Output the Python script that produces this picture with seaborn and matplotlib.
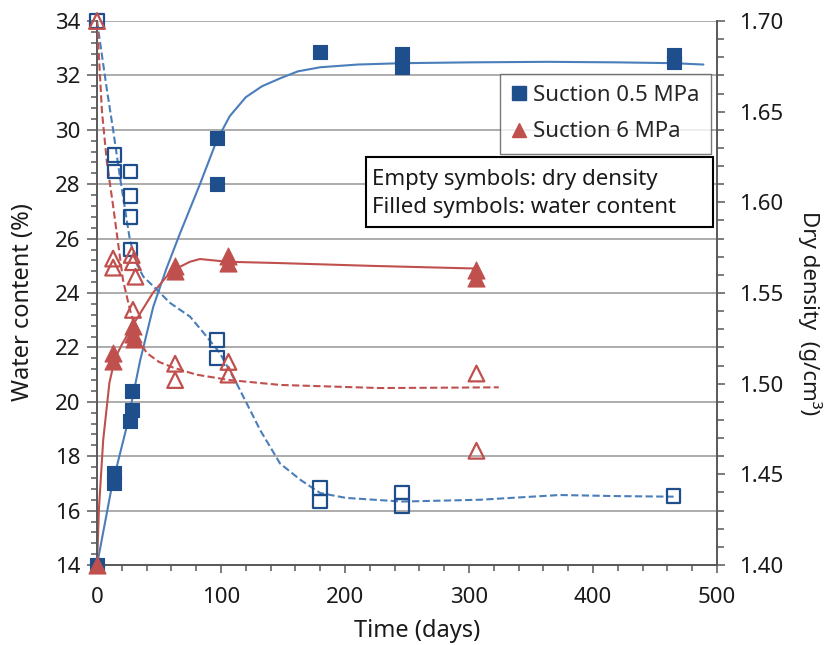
import matplotlib
matplotlib.use("Agg")
import matplotlib.pyplot as plt
from matplotlib.lines import Line2D
from matplotlib.patches import Rectangle
from matplotlib.ticker import MultipleLocator, FormatStrFormatter
import seaborn as sns

# ---- measured points: water content (%) ----
days_w_05 = [0, 14, 14, 28, 28, 27, 97, 97, 180, 246, 246, 465, 465]
water_05 = [14.0, 17.4, 17.0, 20.4, 19.7, 19.3, 29.7, 28.0, 32.85, 32.8, 32.3, 32.75, 32.5]

days_w_6 = [0, 13, 13, 29, 29, 30, 63, 63, 106, 106, 306, 306]
water_6 = [14.0, 21.8, 21.5, 22.8, 22.5, 22.3, 25.0, 24.8, 25.35, 25.1, 24.85, 24.55]

# ---- measured points: dry density (g/cm3) ----
days_d_05 = [0, 14, 14, 27, 27, 27, 27, 97, 97, 180, 180, 246, 246, 465]
density_05 = [1.70, 1.626, 1.617, 1.617, 1.6035, 1.592, 1.574, 1.524, 1.514,
              1.4425, 1.435, 1.440, 1.4326, 1.438]

days_d_6 = [0, 13, 13, 28, 29, 31, 29, 63, 63, 106, 106, 306, 306]
density_6 = [1.70, 1.569, 1.564, 1.571, 1.567, 1.559, 1.5407, 1.511, 1.502,
             1.512, 1.505, 1.5056, 1.463]

# ---- trend curves ----
trend_w_05_days = [0, 12, 23.5, 34.7, 45.4, 56, 67, 83, 96.5, 107, 120, 133, 148,
                   162, 180, 210, 246, 300, 363, 420, 465, 489]
trend_w_05 = [14.0, 16.9, 19.0, 21.5, 23.5, 24.9, 26.2, 28.0, 29.6, 30.5, 31.2, 31.6,
              31.9, 32.15, 32.3, 32.4, 32.45, 32.48, 32.5, 32.48, 32.45, 32.4]

trend_w_6_days = [0, 1.6, 5, 10, 14.5, 20, 30, 45, 56, 64, 75, 83, 105, 148, 220, 306]
trend_w_6 = [14.0, 16.1, 18.6, 20.7, 21.6, 22.1, 22.9, 24.0, 24.6, 24.9, 25.15,
             25.25, 25.15, 25.1, 25.0, 24.9]

trend_d_05_days = [0, 8, 13, 18.5, 26.6, 32, 37.4, 45, 59, 75, 86, 99, 112.7, 126,
                   131.5, 147.6, 164, 180, 201, 246, 309, 373, 420, 465]
trend_d_05 = [1.70, 1.662, 1.640, 1.614, 1.579, 1.566, 1.559, 1.554, 1.5445, 1.537,
              1.528, 1.517, 1.500, 1.482, 1.4745, 1.456, 1.447, 1.4397, 1.437, 1.435,
              1.436, 1.4386, 1.438, 1.4377]

trend_d_6_days = [0, 4, 8, 13, 21, 26.5, 33, 40, 50, 61, 80, 107, 148, 228, 280, 324]
trend_d_6 = [1.70, 1.650, 1.622, 1.598, 1.557, 1.541, 1.525, 1.517, 1.512, 1.509,
             1.505, 1.502, 1.4993, 1.4976, 1.4978, 1.498]

legend_labels = ["Suction 0.5 MPa", "Suction 6 MPa"]
note_lines = ["Empty symbols: dry density", "Filled symbols: water content"]

DARK_BLUE = "#1f4e8c"
LINE_BLUE = "#4a7ebb"
RED = "#c0504d"
AXIS_GREY = "#595959"
TEXT = "#1a1a1a"

sns.set_theme(style="white")
plt.rcParams["font.family"] = ["Noto Sans", "DejaVu Sans"]

fig = plt.figure(figsize=(8.27, 6.45), dpi=100)
ax = fig.add_axes([0.1173, 0.124, 0.7497, 0.8434])
ax2 = ax.twinx()

# trend lines
dash = (0, (3.5, 1.6))
sns.lineplot(x=trend_w_05_days, y=trend_w_05, ax=ax, color=LINE_BLUE, lw=1.5,
             sort=False, estimator=None, zorder=2)
sns.lineplot(x=trend_w_6_days, y=trend_w_6, ax=ax, color=RED, lw=1.5,
             sort=False, estimator=None, zorder=2)
sns.lineplot(x=trend_d_05_days, y=trend_d_05, ax=ax2, color=LINE_BLUE, lw=1.5,
             sort=False, estimator=None, linestyle=dash, zorder=2)
sns.lineplot(x=trend_d_6_days, y=trend_d_6, ax=ax2, color=RED, lw=1.5,
             sort=False, estimator=None, linestyle=dash, zorder=2)

# measured points
sq = 115
tri = 150
sns.scatterplot(x=days_w_05, y=water_05, ax=ax, marker="s", s=sq,
                facecolor=DARK_BLUE, edgecolor=DARK_BLUE, linewidth=0.8,
                zorder=3, clip_on=False)
sns.scatterplot(x=days_w_6, y=water_6, ax=ax, marker="^", s=tri,
                facecolor=RED, edgecolor=RED, linewidth=0.8, zorder=4,
                clip_on=False)
sns.scatterplot(x=days_d_05, y=density_05, ax=ax2, marker="s", s=sq * 0.85,
                facecolor="none", edgecolor=DARK_BLUE, linewidth=1.6, zorder=3,
                clip_on=False)
sns.scatterplot(x=days_d_6, y=density_6, ax=ax2, marker="^", s=tri * 0.85,
                facecolor="none", edgecolor=RED, linewidth=1.6, zorder=4,
                clip_on=False)

# axes ranges and ticks
ax.set_xlim(0, 500)
ax.set_ylim(14, 34)
ax2.set_ylim(1.40, 1.70)
ax.xaxis.set_major_locator(MultipleLocator(100))
ax.xaxis.set_minor_locator(MultipleLocator(20))
ax.yaxis.set_major_locator(MultipleLocator(2))
ax.yaxis.set_minor_locator(MultipleLocator(0.4))
ax2.yaxis.set_major_locator(MultipleLocator(0.05))
ax2.yaxis.set_minor_locator(MultipleLocator(0.01))
ax2.yaxis.set_major_formatter(FormatStrFormatter("%.2f"))

ax.grid(True, axis="y", which="major", color="#a6a6a6", lw=1.3)
ax.set_axisbelow(True)

for a in (ax, ax2):
    a.spines["top"].set_visible(False)
    for side in ("left", "bottom", "right"):
        a.spines[side].set_color(AXIS_GREY)
        a.spines[side].set_linewidth(1.4)
ax.spines["right"].set_visible(False)
ax2.spines["left"].set_visible(False)
ax2.spines["bottom"].set_visible(False)

tick_kw = dict(direction="out", color=AXIS_GREY, width=1.1, labelsize=16,
               labelcolor=TEXT)
ax.tick_params(axis="x", which="major", length=6, pad=10, **tick_kw)
ax.tick_params(axis="x", which="minor", length=4, **tick_kw)
ax.tick_params(axis="y", which="major", length=7, pad=5, **tick_kw)
ax.tick_params(axis="y", which="minor", length=4, **tick_kw)
ax.tick_params(axis="x", which="both", bottom=True)
ax.tick_params(axis="y", which="both", left=True)
ax2.tick_params(axis="y", which="major", length=6, pad=10, right=True, **tick_kw)
ax2.tick_params(axis="y", which="minor", length=5, right=True, **tick_kw)

# axis titles
ax.set_xlabel("Time (days)", fontsize=17, color=TEXT)
ax.xaxis.label.set_va("center")
ax.xaxis.set_label_coords(0.516, -0.122)

ax.set_ylabel("Water content (%)", fontsize=17, color=TEXT)
ax.yaxis.label.set_va("center")
ax.yaxis.set_label_coords(-0.12, 0.483)

ax2.set_ylabel("Dry density  (g/cm³)", fontsize=16, color=TEXT, rotation=-90)
ax2.yaxis.label.set_va("center")
ax2.yaxis.label.set_ha("center")
ax2.yaxis.set_label_coords(1.150, 0.463)

# legend and note box
handles = [
    Line2D([], [], marker="s", linestyle="none", markersize=10, color=DARK_BLUE),
    Line2D([], [], marker="^", linestyle="none", markersize=10.5, color=RED),
]
leg = ax2.legend(handles, legend_labels, loc="upper right",
                 bbox_to_anchor=(0.990, 0.903), fontsize=16, frameon=True,
                 fancybox=False, edgecolor="#595959", handlelength=0.7,
                 handletextpad=0.3, borderpad=0.5, labelspacing=0.7,
                 borderaxespad=0)
leg.get_frame().set_linewidth(1.0)

ax2.add_patch(Rectangle((0.4339, 0.6213), 0.5596, 0.1287, transform=ax2.transAxes,
                        facecolor="white", edgecolor="black", linewidth=1.5,
                        zorder=9, clip_on=False))
for line_text, y in zip(note_lines, (0.708, 0.658)):
    ax2.text(0.4435, y, line_text, transform=ax2.transAxes, fontsize=16,
             va="center", ha="left", color=TEXT, zorder=10)

fig.savefig("out.png", dpi=100)
